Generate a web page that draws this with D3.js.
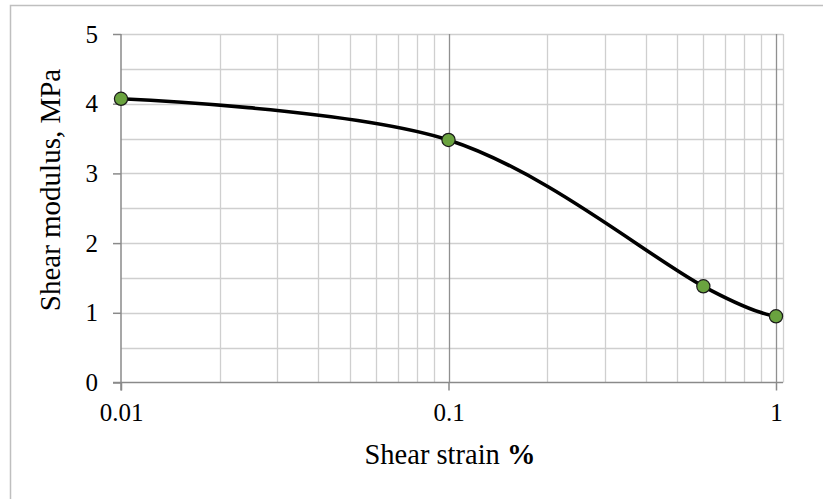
<!DOCTYPE html>
<html><head><meta charset="utf-8">
<script src="https://cdn.jsdelivr.net/npm/d3@7"></script>
<style>body{margin:0;background:#fff}svg{display:block}text{font-family:"Liberation Serif","Times New Roman",serif;fill:#000}</style>
</head><body><svg id="c" width="823" height="499"></svg>
<script>
const strain = [0.01, 0.1, 0.6, 1];
const modulus = [4.07, 3.48, 1.38, 0.95];
const yTicks = [0, 1, 2, 3, 4, 5];
const yMinor = [0.5, 1.5, 2.5, 3.5, 4.5];
const xTicks = [0.01, 0.1, 1];
const xTickLabels = ["0.01", "0.1", "1"];
const xMinor = [0.02,0.03,0.04,0.05,0.06,0.07,0.08,0.09,0.2,0.3,0.4,0.5,0.6,0.7,0.8,0.9];

const svg = d3.select("#c");
const L = 121, R = 776, T = 34, B = 382.5, plotRight = 783;
const x = d3.scaleLog().domain([0.01, 1]).range([L, R]);
const y = d3.scaleLinear().domain([0, 5]).range([B, T]);

// outer frame
svg.append("rect").attr("x", 10.5).attr("y", 5.5).attr("width", 830).attr("height", 520)
  .attr("fill", "none").attr("stroke", "#bfbfbf").attr("stroke-width", 1.5);

const g = svg.append("g");
g.selectAll(".hg").data(yTicks.concat(yMinor).filter(d => d > 0)).join("line")
  .attr("x1", L).attr("x2", plotRight).attr("y1", d => Math.round(y(d)) + 0.5).attr("y2", d => Math.round(y(d)) + 0.5)
  .attr("stroke", "#cfcfcf").attr("stroke-width", 1.3);
g.selectAll(".vm").data(xMinor).join("line")
  .attr("y1", T).attr("y2", B).attr("x1", d => Math.round(x(d)) + 0.5).attr("x2", d => Math.round(x(d)) + 0.5)
  .attr("stroke", "#cfcfcf").attr("stroke-width", 1.3);
g.selectAll(".vM").data(xTicks.slice(1)).join("line")
  .attr("y1", T).attr("y2", B).attr("x1", d => Math.round(x(d)) + 0.5).attr("x2", d => Math.round(x(d)) + 0.5)
  .attr("stroke", "#909090").attr("stroke-width", 1.3);
g.append("line").attr("x1", plotRight + 0.5).attr("x2", plotRight + 0.5).attr("y1", T).attr("y2", B)
  .attr("stroke", "#cfcfcf").attr("stroke-width", 1.3);

// axes
const yAxis = d3.axisLeft(y).tickValues(yTicks).tickSize(8).tickPadding(15).tickFormat(d3.format("d"));
const ya = svg.append("g").attr("transform", `translate(${L},0)`).call(yAxis);
const xAxis = d3.axisBottom(x).tickValues(xTicks).tickSize(8).tickPadding(13).tickFormat((d, i) => xTickLabels[i]);
const xa = svg.append("g").attr("transform", `translate(0,${B})`).call(xAxis);
[ya, xa].forEach(a => {
  a.attr("font-size", 25).attr("font-family", "Liberation Serif");
  a.select(".domain").attr("stroke", "#8a8a8a").attr("stroke-width", 1.5);
  a.selectAll(".tick line").attr("stroke", "#8a8a8a").attr("stroke-width", 1.5);
  a.selectAll("text").attr("font-size", 25).attr("fill", "#000");
});
xa.select(".domain").attr("d", `M${L - 8},0H${plotRight}`);
ya.select(".domain").attr("d", `M0,${B + 8}V${T}`);

// curve
const pts = strain.map((s, i) => [x(s), y(modulus[i])]);
svg.append("path").attr("d", d3.line().curve(d3.curveCardinal.tension(0))(pts))
  .attr("fill", "none").attr("stroke", "#000").attr("stroke-width", 3.6);
svg.selectAll(".pt").data(pts).join("circle")
  .attr("cx", d => d[0]).attr("cy", d => d[1]).attr("r", 6.6)
  .attr("fill", "#6aa33f").attr("stroke", "#1a1a1a").attr("stroke-width", 1.2);

// titles
svg.append("text").attr("transform", `translate(60,190) rotate(-90)`)
  .attr("text-anchor", "middle").attr("font-size", 29).text("Shear modulus, MPa");
const xt = svg.append("text").attr("x", 450).attr("y", 464).attr("text-anchor", "middle").attr("font-size", 28.5);
xt.append("tspan").text("Shear strain ");
xt.append("tspan").attr("font-weight", "bold").text("%");
</script></body></html>
